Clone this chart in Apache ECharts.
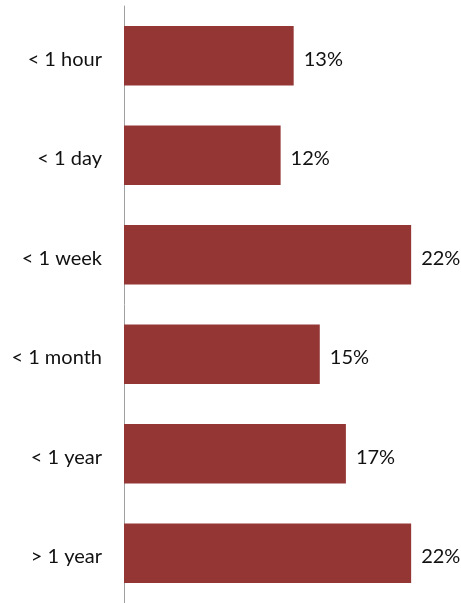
<!DOCTYPE html>
<html><head><meta charset="utf-8">
<script src="https://cdn.jsdelivr.net/npm/echarts@6/dist/echarts.min.js"></script>
<style>html,body{margin:0;padding:0;background:#fff}#c{width:461px;height:603px}</style>
</head><body><div id="c"></div>
<script>
const categories = ['< 1 hour', '< 1 day', '< 1 week', '< 1 month', '< 1 year', '> 1 year'];
const values = [13, 12, 22, 15, 17, 22];
const FONT = 'Lato';
const chart = echarts.init(document.getElementById('c'), null, {renderer: 'canvas'});
chart.setOption({
  animation: false,
  grid: {left: 124, top: 6, width: 326.3, height: 600, containLabel: false},
  xAxis: {type: 'value', min: 0, max: 25, show: false},
  yAxis: {
    type: 'category', data: categories, inverse: true,
    axisLine: {show: true, lineStyle: {color: '#a0a0a0', width: 1}},
    axisTick: {show: false},
    axisLabel: {color: '#111', fontSize: 20, fontFamily: FONT, margin: 22, verticalAlign: 'top', lineHeight: 7}
  },
  series: [{
    type: 'bar', data: values, barCategoryGap: '40%',
    itemStyle: {color: '#943634'},
    label: {show: true, position: 'right', distance: 10, offset: [0, 3.5], formatter: '{c}%', color: '#111', fontSize: 20, fontFamily: FONT}
  }]
});
</script></body></html>
